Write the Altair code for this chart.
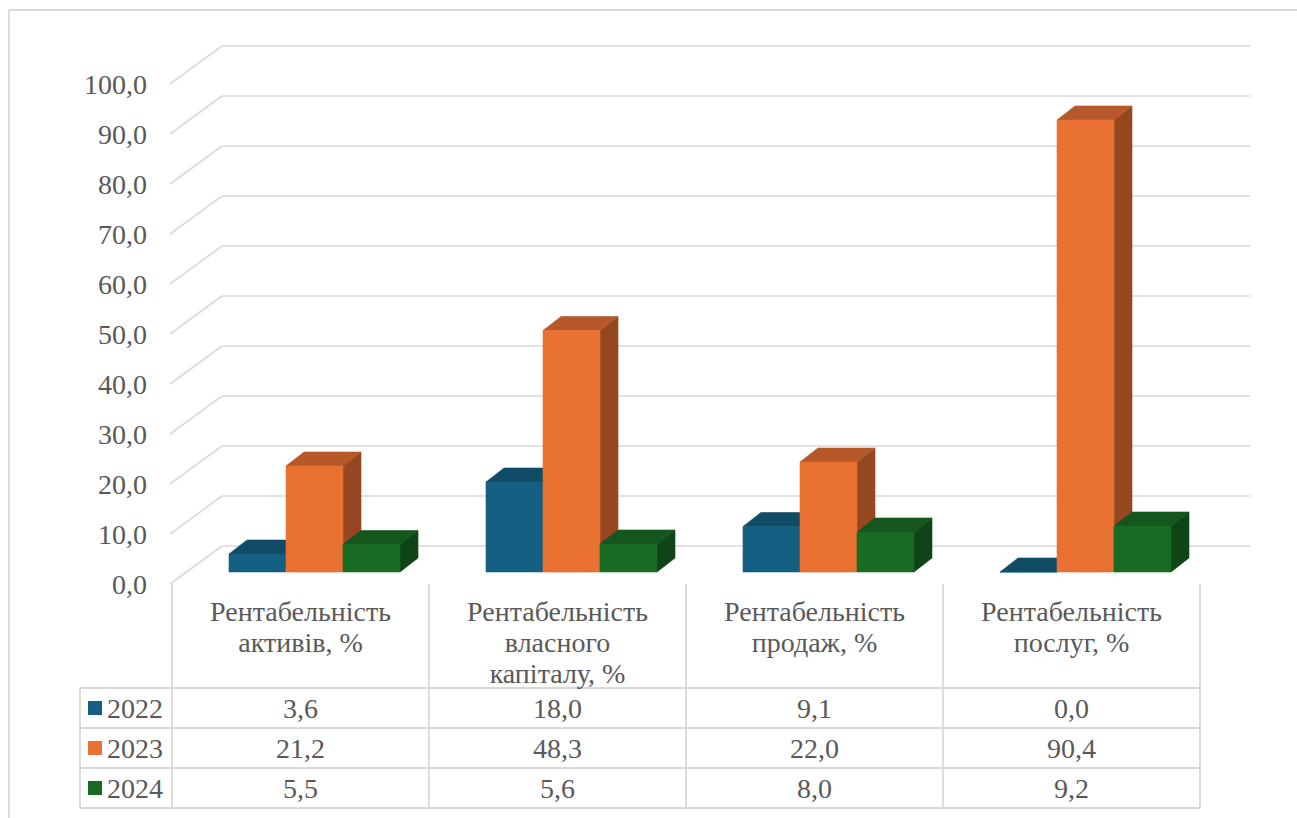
import altair as alt
import pandas as pd

# ---------------- data ----------------
categories = [
    "Рентабельність\nактивів, %",
    "Рентабельність\nвласного\nкапіталу, %",
    "Рентабельність\nпродаж, %",
    "Рентабельність\nпослуг, %",
]
years = ["2022", "2023", "2024"]
values_2022 = [3.6, 18.0, 9.1, 0.0]
values_2023 = [21.2, 48.3, 22.0, 90.4]
values_2024 = [5.5, 5.6, 8.0, 9.2]
y_ticks = [0, 10, 20, 30, 40, 50, 60, 70, 80, 90, 100]

series = [values_2022, values_2023, values_2024]

# ---------------- styles / layout ----------------
front_colors = ["#156082", "#E97132", "#196B24"]
top_colors = ["#114c67", "#b6582a", "#14561d"]
side_colors = ["#0e3e54", "#95471f", "#0f4418"]
GRID = "#d9d9d9"
TEXT = "#595959"
FONT = "Liberation Serif"
FS = 28

W, H = 1297, 818
CAT_PX = 257.0       # pixels per category (front plane)
X0_PX = 172.0        # left of front plane
Y0_PX = 584.0        # value 0 on the front plane
PX_PER_V = 5.0       # pixels per value unit


def ux(px):  # pixel offset -> category units
    return px / CAT_PX


def uy(px):  # pixel offset -> value units
    return px / PX_PER_V


xs = alt.Scale(domain=[-X0_PX / CAT_PX, (W - X0_PX) / CAT_PX], nice=False, zero=False)
ys = alt.Scale(domain=[(Y0_PX - H) / PX_PER_V, Y0_PX / PX_PER_V], nice=False, zero=False)

WALL_DX, WALL_DY = ux(50), uy(38)
BAR_SHIFT_X, BAR_BASE = ux(14), uy(12)
BAR_W = ux(57)
DEPTH_X, DEPTH_Y = ux(18), uy(14)
GROUP_PAD = (1 - 3 * BAR_W) / 2

n = len(categories)

# ---------------- gridlines (3D wall) ----------------
seg = []
for t in y_ticks:
    seg.append(dict(x=ux(-2), y=t, x2=WALL_DX, y2=t + WALL_DY))
    seg.append(dict(x=WALL_DX, y=t + WALL_DY, x2=n + WALL_DX, y2=t + WALL_DY))
grid_df = pd.DataFrame(seg)

grid = alt.Chart(grid_df).mark_rule(color=GRID, strokeWidth=1.6).encode(
    x=alt.X("x:Q", scale=xs, axis=None),
    x2="x2:Q",
    y=alt.Y("y:Q", scale=ys, axis=None),
    y2="y2:Q",
)

# ---------------- bars ----------------
fronts, polys = [], []
for ci in range(n):
    for yi, vals in enumerate(series):
        v = vals[ci]
        x0 = ci + GROUP_PAD + BAR_SHIFT_X + yi * BAR_W
        x1 = x0 + BAR_W
        h = BAR_BASE + v
        bid = f"{ci}-{yi}"
        fronts.append(dict(x=x0, x2=x1, y=BAR_BASE, y2=h, fill=front_colors[yi]))
        # top face
        for px, lo, hi in [(x0, h, h), (x0 + DEPTH_X, h, h + DEPTH_Y),
                           (x1, h, h + DEPTH_Y), (x1 + DEPTH_X, h + DEPTH_Y, h + DEPTH_Y)]:
            polys.append(dict(bar="t" + bid, face=0, x=px, lo=lo, hi=hi, fill=top_colors[yi]))
        # side face
        for px, lo, hi in [(x1, BAR_BASE, h), (x1 + DEPTH_X, BAR_BASE + DEPTH_Y, h + DEPTH_Y)]:
            polys.append(dict(bar="s" + bid, face=1, x=px, lo=lo, hi=hi, fill=side_colors[yi]))

front_df = pd.DataFrame(fronts)
poly_df = pd.DataFrame(polys)


def faces(face):
    return alt.Chart(poly_df[poly_df.face == face]).mark_area(strokeWidth=0.6).encode(
        x=alt.X("x:Q", scale=xs, axis=None),
        y=alt.Y("lo:Q", scale=ys, axis=None, stack=None),
        y2="hi:Q",
        fill=alt.Fill("fill:N", scale=None),
        stroke=alt.Stroke("fill:N", scale=None),
        detail="bar:N",
    )


sides = faces(1)
tops = faces(0)
front = alt.Chart(front_df).mark_rect(strokeWidth=0.6).encode(
    x=alt.X("x:Q", scale=xs, axis=None),
    x2="x2:Q",
    y=alt.Y("y:Q", scale=ys, axis=None),
    y2="y2:Q",
    fill=alt.Fill("fill:N", scale=None),
    stroke=alt.Stroke("fill:N", scale=None),
)

# ---------------- y labels ----------------
ylab_df = pd.DataFrame({
    "x": [ux(-25)] * len(y_ticks),
    "y": y_ticks,
    "label": [f"{t:.1f}".replace(".", ",") for t in y_ticks],
})
ylabels = alt.Chart(ylab_df).mark_text(
    align="right", baseline="alphabetic", dy=9.5, font=FONT, fontSize=FS, color=TEXT
).encode(
    x=alt.X("x:Q", scale=xs, axis=None),
    y=alt.Y("y:Q", scale=ys, axis=None),
    text="label:N",
)

# ---------------- data table ----------------
ROW_TOP = uy(-104)     # 688 px
ROW_H = uy(40)
LEG_X = ux(-92)        # 80 px
lines = []
for r in range(len(years) + 1):
    yy = ROW_TOP - r * ROW_H
    lines.append(dict(x=LEG_X, x2=n, y=yy, y2=yy))
for ci in range(n + 1):
    lines.append(dict(x=ci, x2=ci, y=0, y2=ROW_TOP - len(years) * ROW_H))
lines.append(dict(x=LEG_X, x2=LEG_X, y=ROW_TOP, y2=ROW_TOP - len(years) * ROW_H))
# outer chart border (left and top)
lines.append(dict(x=ux(-163), x2=ux(-163), y=uy(574), y2=uy(-240)))
lines.append(dict(x=ux(-163), x2=ux(1200), y=uy(574), y2=uy(574)))
table_df = pd.DataFrame(lines)
table_lines = alt.Chart(table_df).mark_rule(color=GRID, strokeWidth=1.8).encode(
    x=alt.X("x:Q", scale=xs, axis=None),
    x2="x2:Q",
    y=alt.Y("y:Q", scale=ys, axis=None),
    y2="y2:Q",
)

head_df = pd.DataFrame({"x": [i + 0.5 for i in range(n)], "y": [uy(-37)] * n, "label": categories})
header = alt.Chart(head_df).mark_text(
    align="center", baseline="alphabetic", lineBreak="\n", lineHeight=31,
    font=FONT, fontSize=FS, color=TEXT
).encode(
    x=alt.X("x:Q", scale=xs, axis=None),
    y=alt.Y("y:Q", scale=ys, axis=None),
    text="label:N",
)

cells = []
for yi, vals in enumerate(series):
    yc = ROW_TOP - (yi + 0.5) * ROW_H
    for ci, v in enumerate(vals):
        cells.append(dict(x=ci + 0.5, y=yc, label=f"{v:.1f}".replace(".", ",")))
cell_df = pd.DataFrame(cells)
cell_text = alt.Chart(cell_df).mark_text(
    align="center", baseline="alphabetic", dy=10, font=FONT, fontSize=FS, color=TEXT
).encode(
    x=alt.X("x:Q", scale=xs, axis=None),
    y=alt.Y("y:Q", scale=ys, axis=None),
    text="label:N",
)

leg_df = pd.DataFrame({
    "xs": [ux(-77)] * len(years),
    "xt": [ux(-65)] * len(years),
    "y": [ROW_TOP - (i + 0.5) * ROW_H for i in range(len(years))],
    "year": years,
    "fill": front_colors,
})
leg_sq = alt.Chart(leg_df).mark_point(shape="square", filled=True, size=196, opacity=1).encode(
    x=alt.X("xs:Q", scale=xs, axis=None),
    y=alt.Y("y:Q", scale=ys, axis=None),
    fill=alt.Fill("fill:N", scale=None),
)
leg_txt = alt.Chart(leg_df).mark_text(
    align="left", baseline="alphabetic", dy=10, font=FONT, fontSize=FS, color=TEXT
).encode(
    x=alt.X("xt:Q", scale=xs, axis=None),
    y=alt.Y("y:Q", scale=ys, axis=None),
    text="year:N",
)

chart = alt.layer(
    grid, sides, tops, front, ylabels, table_lines, header, cell_text, leg_sq, leg_txt
).properties(
    width=W, height=H, padding=0, autosize="none", background="white"
).configure_view(stroke=None)

chart.save("out.html", embed_options={"renderer": "svg", "actions": False})
